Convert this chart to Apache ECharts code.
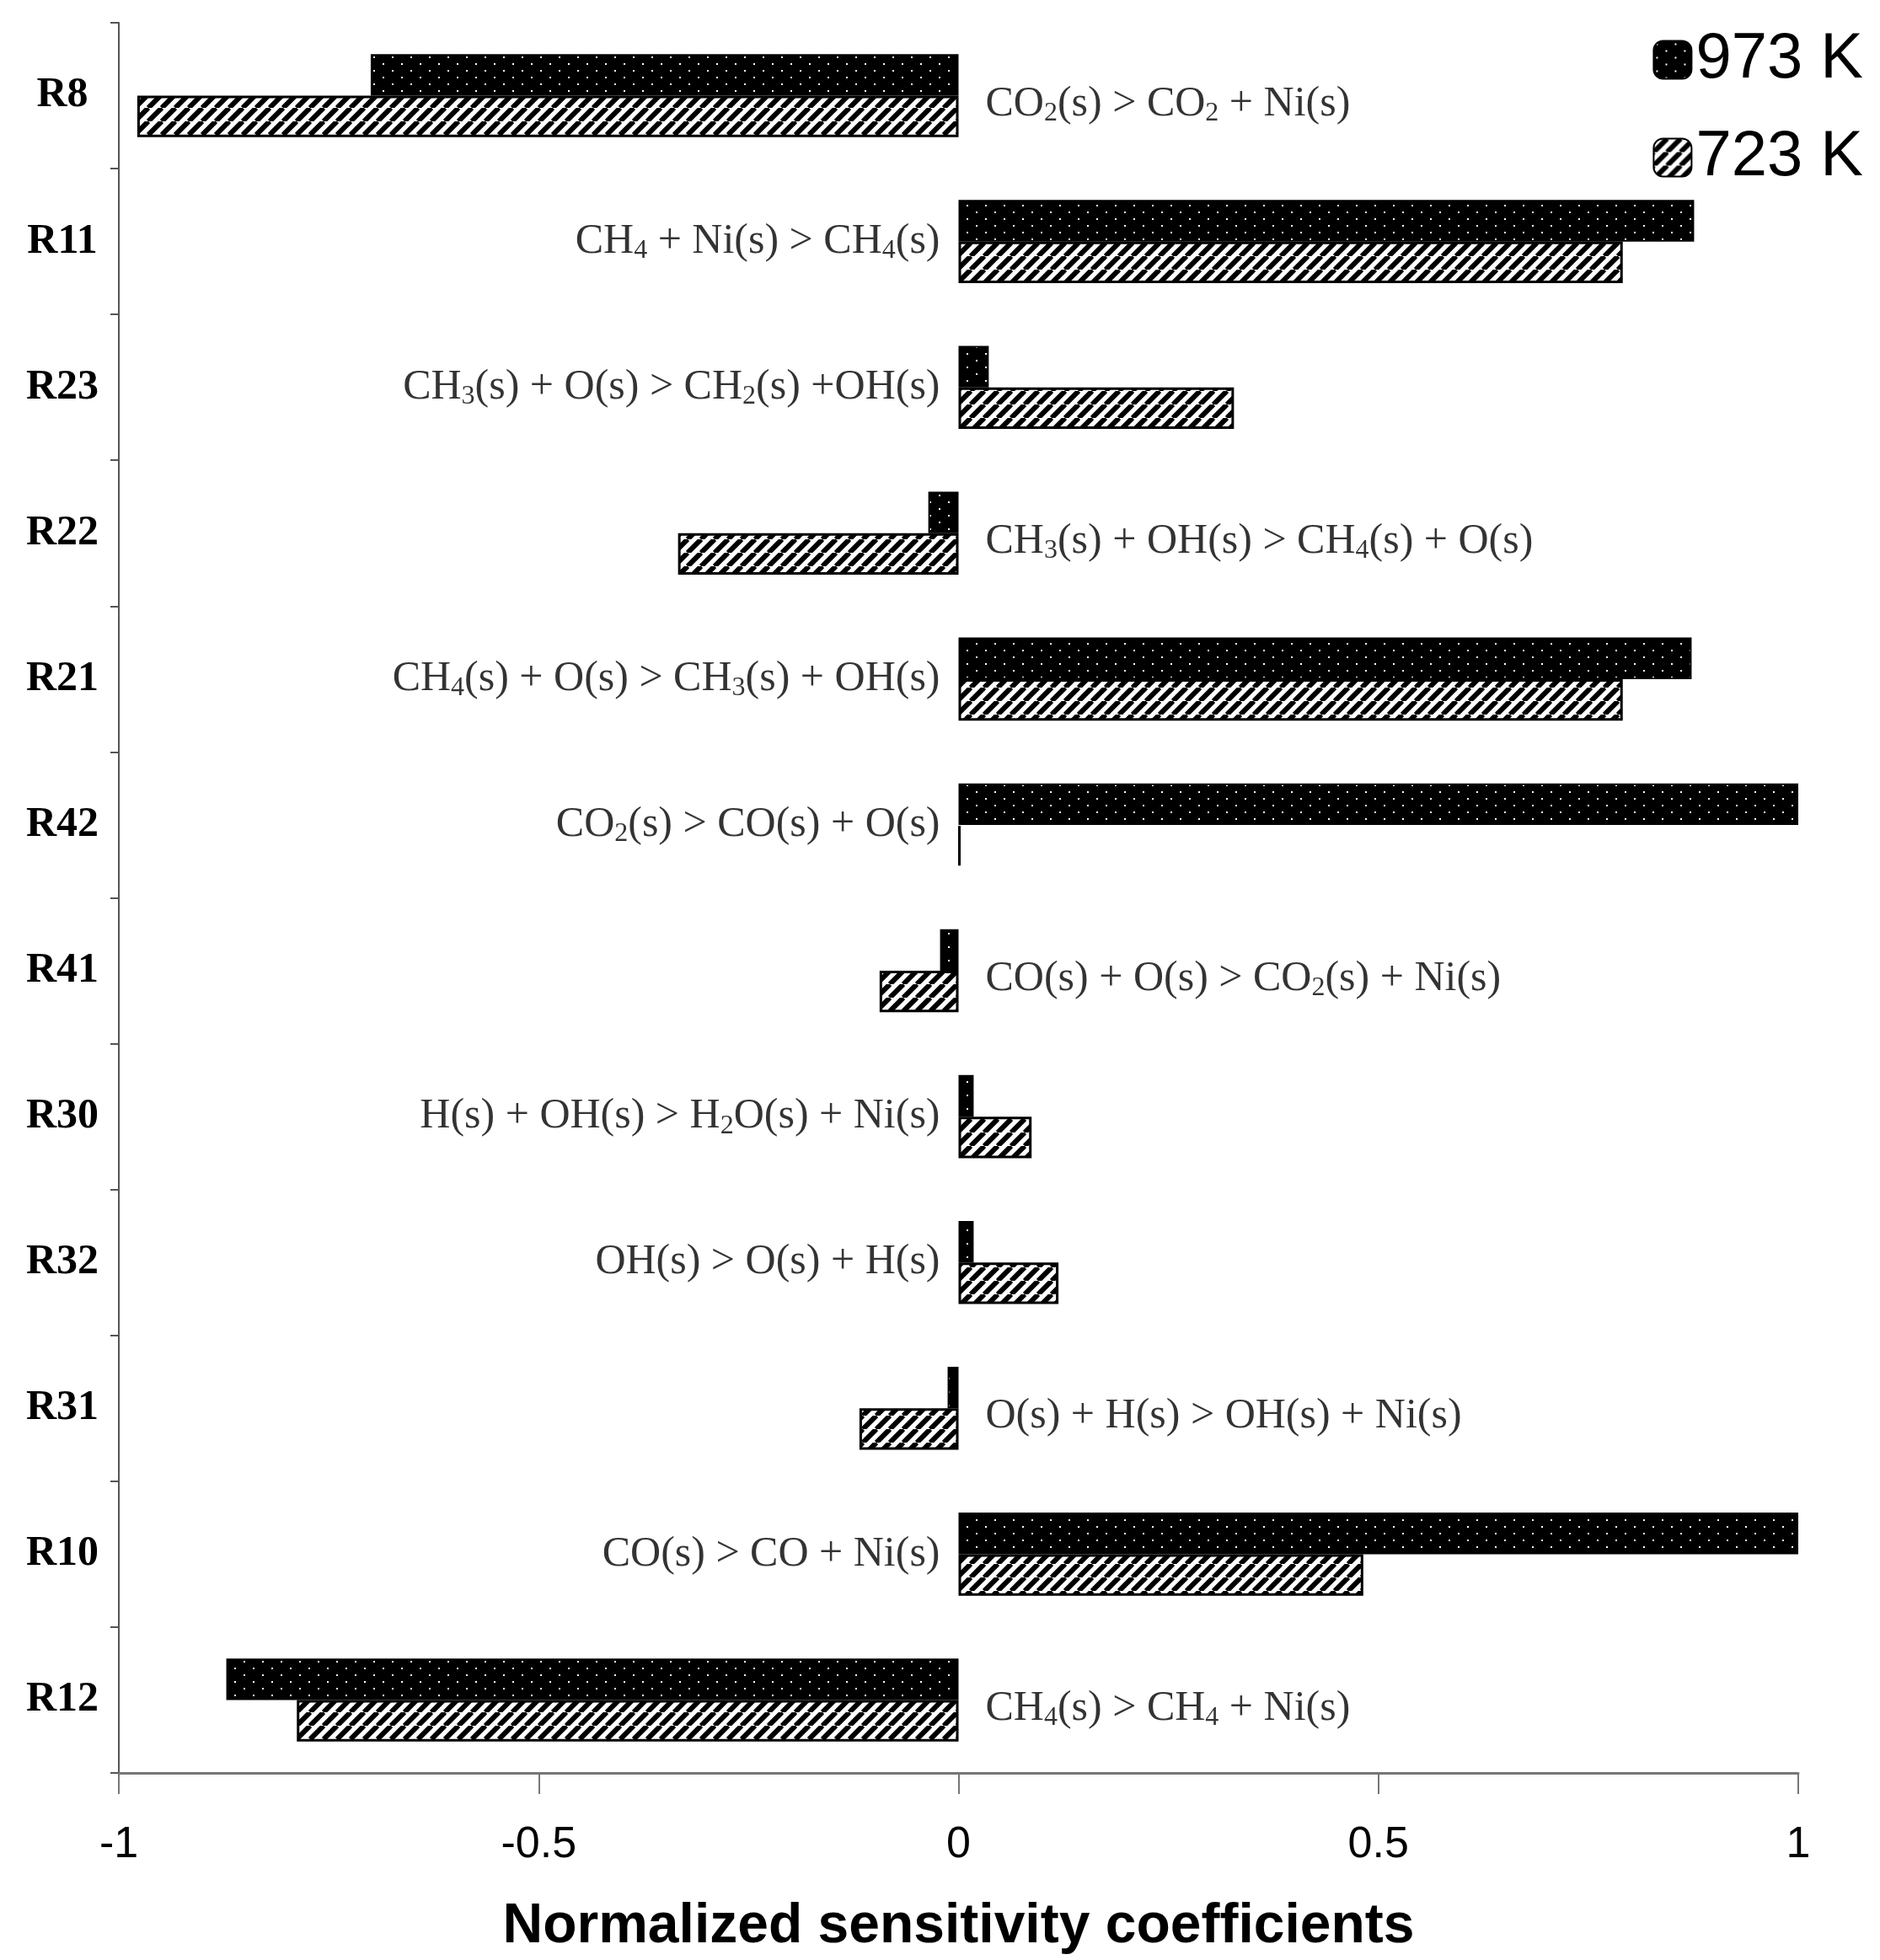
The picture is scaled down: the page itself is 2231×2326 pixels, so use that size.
<!DOCTYPE html>
<html><head><meta charset="utf-8">
<script src="https://cdn.jsdelivr.net/npm/echarts@6/dist/echarts.min.js"></script>
<style>html,body{margin:0;background:#fff}#c{width:2231px;height:2326px}</style>
</head><body><div id="c"></div>
<script>
const categories = ['R8','R11','R23','R22','R21','R42','R41','R30','R32','R31','R10','R12'];
const reactions = [
 '{n|CO}{s|2}{n|(s) > CO}{s|2}{n| + Ni(s)}',
 '{n|CH}{s|4}{n| + Ni(s) > CH}{s|4}{n|(s)}',
 '{n|CH}{s|3}{n|(s) + O(s) > CH}{s|2}{n|(s) +OH(s)}',
 '{n|CH}{s|3}{n|(s) + OH(s) > CH}{s|4}{n|(s) + O(s)}',
 '{n|CH}{s|4}{n|(s) + O(s) > CH}{s|3}{n|(s) + OH(s)}',
 '{n|CO}{s|2}{n|(s) > CO(s) + O(s)}',
 '{n|CO(s) + O(s) > CO}{s|2}{n|(s) + Ni(s)}',
 '{n|H(s) + OH(s) > H}{s|2}{n|O(s) + Ni(s)}',
 '{n|OH(s) > O(s) + H(s)}',
 '{n|O(s) + H(s) > OH(s) + Ni(s)}',
 '{n|CO(s) > CO + Ni(s)}',
 '{n|CH}{s|4}{n|(s) > CH}{s|4}{n| + Ni(s)}'
];
const labelSide = ['right','left','left','right','left','left','right','left','left','right','left','right'];
const values973 = [-0.70,0.876,0.036,-0.036,0.873,1.0,-0.022,0.018,0.018,-0.013,1.0,-0.872];
const values723 = [-0.978,0.791,0.328,-0.334,0.791,0.002,-0.094,0.087,0.119,-0.118,0.482,-0.788];
const xTicks = [-1,-0.5,0,0.5,1];

function dots(){const c=document.createElement('canvas');c.width=22;c.height=16;const g=c.getContext('2d');
 g.fillStyle='#000';g.fillRect(0,0,22,16);g.fillStyle='#fff';g.fillRect(3,3,2,2);g.fillRect(14,11,2,2);return c;}
function stripes(){const c=document.createElement('canvas');c.width=16;c.height=16;const g=c.getContext('2d');
 g.fillStyle='#fff';g.fillRect(0,0,16,16);g.strokeStyle='#000';g.lineWidth=6;
 for(let k=-1;k<=1;k++){g.beginPath();g.moveTo(k*16,16);g.lineTo(k*16+16,0);g.stroke();}return c;}

const chart = echarts.init(document.getElementById('c'));
const serifFont = '"Liberation Serif","DejaVu Serif",serif';
const narrow = '"Liberation Sans Narrow","Liberation Sans",sans-serif';
chart.setOption({
 animation:false,
 grid:{left:141,right:97,top:27,bottom:222},
 legend:{right:15,top:28,orient:'vertical',itemWidth:45,itemHeight:45,itemGap:40,
   textStyle:{fontFamily:narrow,fontSize:76,color:'#000'},data:['973 K','723 K']},
 xAxis:{type:'value',min:-1,max:1,interval:0.5,
   name:'Normalized sensitivity coefficients',nameLocation:'middle',nameGap:150,
   nameTextStyle:{fontFamily:narrow,fontWeight:'bold',fontSize:66,color:'#000'},
   axisLine:{show:true,lineStyle:{color:'#777',width:3}},
   axisTick:{show:true,length:25,inside:false,lineStyle:{color:'#777',width:2}},
   axisLabel:{margin:60,fontFamily:narrow,fontSize:52,color:'#000',formatter:v=>String(v)},
   splitLine:{show:false}},
 yAxis:[
  {type:'category',data:categories,inverse:true,position:'left',
   axisLine:{show:false},axisTick:{show:false},
   axisLabel:{fontFamily:serifFont,fontWeight:'bold',fontSize:50,color:'#000',align:'center',margin:67}},
  {type:'category',data:categories,inverse:true,position:'left',
   axisLine:{show:true,onZero:true,lineStyle:{color:'#555',width:2}},
   axisTick:{show:true,length:10,lineStyle:{color:'#555',width:2}},axisLabel:{show:false}}
 ],
 series:[
  {name:'973 K',type:'bar',data:values973,barGap:'0%',barCategoryGap:'43%',
   itemStyle:{color:{image:dots(),repeat:'repeat'},borderColor:'#000',borderWidth:2}},
  {name:'723 K',type:'bar',data:values723,
   itemStyle:{color:{image:stripes(),repeat:'repeat'},borderColor:'#000',borderWidth:3}},
  {type:'scatter',symbolSize:0,silent:true,
   data:categories.map((c,i)=>({value:[0,c],label:{show:true,position:labelSide[i],distance:labelSide[i]==='right'?32:22,
     offset:[0,labelSide[i]==='right'?10:0],formatter:reactions[i]}})),
   label:{rich:{n:{fontFamily:serifFont,fontSize:50,color:'#000'},
                s:{fontFamily:serifFont,fontSize:32,color:'#000',padding:[22,0,0,0]}}}}
 ]
});
</script></body></html>
